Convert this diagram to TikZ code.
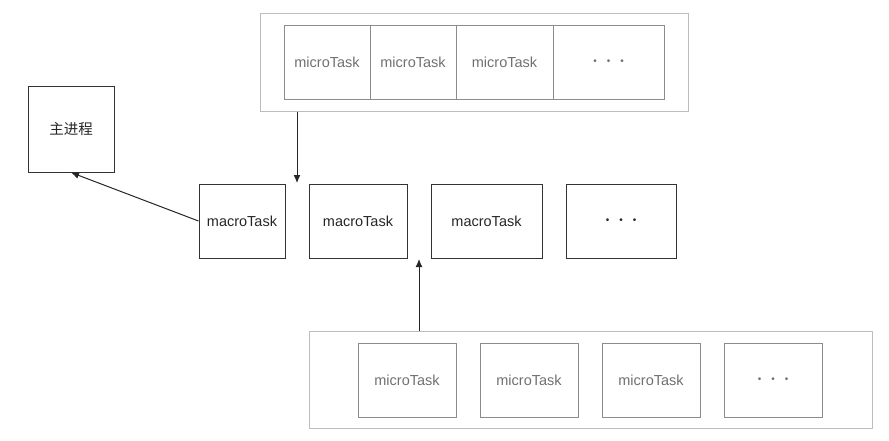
\documentclass[tikz,border=0pt]{standalone}
\usepackage{fontspec}
\setmainfont{Liberation Sans}
\newfontfamily\cjk{Noto Sans CJK SC}
\usepackage{xcolor}
\usetikzlibrary{calc,arrows.meta}

\definecolor{bordeCola}{HTML}{BDBDBD}
\definecolor{bordeMicro}{HTML}{8C8C8C}
\definecolor{textoMicro}{HTML}{707070}
\definecolor{bordeMacro}{HTML}{333333}

% Puntos suspensivos de las cajas finales
\newcommand{\tresPuntos}{\raisebox{-4pt}{\fontsize{10}{10}\selectfont\textbullet\hspace{10pt}\textbullet\hspace{10pt}\textbullet}}

\begin{document}
\begin{tikzpicture}[x=1pt,y=-1pt,>={Latex[length=8pt,width=7pt]},
  font=\fontsize{14.5}{16}\selectfont,
  cola/.style={draw=bordeCola,line width=1pt,inner sep=0pt},
  micro/.style={draw=bordeMicro,line width=1pt,text=textoMicro,inner sep=0pt,minimum height=74pt},
  macro/.style={draw=bordeMacro,line width=1pt,text=black!85,inner sep=0pt,minimum height=74pt},
  flecha/.style={->,line width=1pt,draw=black!85}]
  % Parámetros de la ventana
  \def\ancho{889}
  \def\alto{440}
  \useasboundingbox (0,0) rectangle (\ancho,\alto);

  % Proceso principal
  \node[macro,minimum width=86pt,minimum height=86pt] (principal) at (71,129) {\cjk 主进程};

  % Cola de microtareas de arriba
  \node[cola,minimum width=428pt,minimum height=98pt] (colaArriba) at (474,62) {};
  \foreach \cx/\w/\t [count=\i] in {327/86/microTask,413/86/microTask,504.5/97/microTask,608.5/111/\tresPuntos} {
    \node[micro,minimum width=\w pt] (arriba\i) at (\cx,62) {\t};
  }

  % Fila de macrotareas
  \foreach \cx/\w/\t [count=\i] in {242/86/macroTask,358/98/macroTask,486.5/111/macroTask,621/110/\tresPuntos} {
    \node[macro,minimum width=\w pt] (macro\i) at (\cx,221) {\t};
  }

  % Cola de microtareas de abajo
  \node[cola,minimum width=563pt,minimum height=97pt] (colaAbajo) at (590.5,379.5) {};
  \foreach \cx/\t [count=\i] in {407/microTask,529/microTask,651/microTask,773/\tresPuntos} {
    \node[micro,minimum width=98pt] (abajo\i) at (\cx,380) {\t};
  }

  % Flechas
  \coordinate (bajada) at (297,183);
  \coordinate (subida) at (419,259);
  \draw[flecha] (colaArriba.south -| bajada) -- (bajada);
  \draw[flecha] (colaAbajo.north -| subida) -- (subida);
  \draw[flecha] (macro1.west) -- (principal.south);
\end{tikzpicture}
\end{document}
